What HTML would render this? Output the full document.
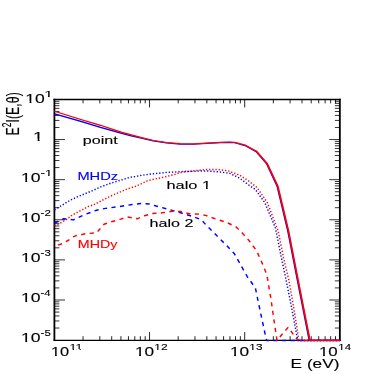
<!DOCTYPE html>
<html><head><meta charset="utf-8"><title>plot</title>
<style>html,body{margin:0;padding:0;background:#fff;}body{width:390px;height:374px;overflow:hidden;font-family:"Liberation Sans",sans-serif;}svg{display:block}text{font-family:"Liberation Sans",sans-serif;}</style></head><body>
<svg width="390" height="374" viewBox="0 0 390 374" style="will-change:transform">
<rect width="390" height="374" fill="#fff"/>
<g stroke="#000" fill="none">
<path d="M83.04 340.1L83.04 336.2 M83.04 99.45L83.04 103.35 M99.8 340.1L99.8 336.2 M99.8 99.45L99.8 103.35 M111.69 340.1L111.69 336.2 M111.69 99.45L111.69 103.35 M120.91 340.1L120.91 336.2 M120.91 99.45L120.91 103.35 M128.44 340.1L128.44 336.2 M128.44 99.45L128.44 103.35 M134.81 340.1L134.81 336.2 M134.81 99.45L134.81 103.35 M140.33 340.1L140.33 336.2 M140.33 99.45L140.33 103.35 M145.2 340.1L145.2 336.2 M145.2 99.45L145.2 103.35 M149.55 340.1L149.55 332.1 M149.55 99.45L149.55 107.45 M178.19 340.1L178.19 336.2 M178.19 99.45L178.19 103.35 M194.95 340.1L194.95 336.2 M194.95 99.45L194.95 103.35 M206.84 340.1L206.84 336.2 M206.84 99.45L206.84 103.35 M216.06 340.1L216.06 336.2 M216.06 99.45L216.06 103.35 M223.59 340.1L223.59 336.2 M223.59 99.45L223.59 103.35 M229.96 340.1L229.96 336.2 M229.96 99.45L229.96 103.35 M235.48 340.1L235.48 336.2 M235.48 99.45L235.48 103.35 M240.35 340.1L240.35 336.2 M240.35 99.45L240.35 103.35 M244.7 340.1L244.7 332.1 M244.7 99.45L244.7 107.45 M273.34 340.1L273.34 336.2 M273.34 99.45L273.34 103.35 M290.1 340.1L290.1 336.2 M290.1 99.45L290.1 103.35 M301.99 340.1L301.99 336.2 M301.99 99.45L301.99 103.35 M311.21 340.1L311.21 336.2 M311.21 99.45L311.21 103.35 M318.74 340.1L318.74 336.2 M318.74 99.45L318.74 103.35 M325.11 340.1L325.11 336.2 M325.11 99.45L325.11 103.35 M330.63 340.1L330.63 336.2 M330.63 99.45L330.63 103.35 M335.5 340.1L335.5 336.2 M335.5 99.45L335.5 103.35" stroke-width="0.85"/>
<path d="M54.4 127.48L59.4 127.48 M339.85 127.48L334.85 127.48 M54.4 120.42L59.4 120.42 M339.85 120.42L334.85 120.42 M54.4 115.41L59.4 115.41 M339.85 115.41L334.85 115.41 M54.4 111.52L59.4 111.52 M339.85 111.52L334.85 111.52 M54.4 108.35L59.4 108.35 M339.85 108.35L334.85 108.35 M54.4 105.66L59.4 105.66 M339.85 105.66L334.85 105.66 M54.4 103.34L59.4 103.34 M339.85 103.34L334.85 103.34 M54.4 101.29L59.4 101.29 M339.85 101.29L334.85 101.29 M54.4 139.56L65 139.56 M339.85 139.56L329.25 139.56 M54.4 167.59L59.4 167.59 M339.85 167.59L334.85 167.59 M54.4 160.53L59.4 160.53 M339.85 160.53L334.85 160.53 M54.4 155.52L59.4 155.52 M339.85 155.52L334.85 155.52 M54.4 151.63L59.4 151.63 M339.85 151.63L334.85 151.63 M54.4 148.46L59.4 148.46 M339.85 148.46L334.85 148.46 M54.4 145.77L59.4 145.77 M339.85 145.77L334.85 145.77 M54.4 143.45L59.4 143.45 M339.85 143.45L334.85 143.45 M54.4 141.39L59.4 141.39 M339.85 141.39L334.85 141.39 M54.4 179.67L65 179.67 M339.85 179.67L329.25 179.67 M54.4 207.7L59.4 207.7 M339.85 207.7L334.85 207.7 M54.4 200.64L59.4 200.64 M339.85 200.64L334.85 200.64 M54.4 195.63L59.4 195.63 M339.85 195.63L334.85 195.63 M54.4 191.74L59.4 191.74 M339.85 191.74L334.85 191.74 M54.4 188.56L59.4 188.56 M339.85 188.56L334.85 188.56 M54.4 185.88L59.4 185.88 M339.85 185.88L334.85 185.88 M54.4 183.55L59.4 183.55 M339.85 183.55L334.85 183.55 M54.4 181.5L59.4 181.5 M339.85 181.5L334.85 181.5 M54.4 219.78L65 219.78 M339.85 219.78L329.25 219.78 M54.4 247.81L59.4 247.81 M339.85 247.81L334.85 247.81 M54.4 240.75L59.4 240.75 M339.85 240.75L334.85 240.75 M54.4 235.74L59.4 235.74 M339.85 235.74L334.85 235.74 M54.4 231.85L59.4 231.85 M339.85 231.85L334.85 231.85 M54.4 228.67L59.4 228.67 M339.85 228.67L334.85 228.67 M54.4 225.99L59.4 225.99 M339.85 225.99L334.85 225.99 M54.4 223.66L59.4 223.66 M339.85 223.66L334.85 223.66 M54.4 221.61L59.4 221.61 M339.85 221.61L334.85 221.61 M54.4 259.88L65 259.88 M339.85 259.88L329.25 259.88 M54.4 287.92L59.4 287.92 M339.85 287.92L334.85 287.92 M54.4 280.86L59.4 280.86 M339.85 280.86L334.85 280.86 M54.4 275.84L59.4 275.84 M339.85 275.84L334.85 275.84 M54.4 271.96L59.4 271.96 M339.85 271.96L334.85 271.96 M54.4 268.78L59.4 268.78 M339.85 268.78L334.85 268.78 M54.4 266.1L59.4 266.1 M339.85 266.1L334.85 266.1 M54.4 263.77L59.4 263.77 M339.85 263.77L334.85 263.77 M54.4 261.72L59.4 261.72 M339.85 261.72L334.85 261.72 M54.4 299.99L65 299.99 M339.85 299.99L329.25 299.99 M54.4 328.03L59.4 328.03 M339.85 328.03L334.85 328.03 M54.4 320.96L59.4 320.96 M339.85 320.96L334.85 320.96 M54.4 315.95L59.4 315.95 M339.85 315.95L334.85 315.95 M54.4 312.07L59.4 312.07 M339.85 312.07L334.85 312.07 M54.4 308.89L59.4 308.89 M339.85 308.89L334.85 308.89 M54.4 306.2L59.4 306.2 M339.85 306.2L334.85 306.2 M54.4 303.88L59.4 303.88 M339.85 303.88L334.85 303.88 M54.4 301.83L59.4 301.83 M339.85 301.83L334.85 301.83" stroke-width="0.8"/>
<path d="M54.4 98.7V340.85 M339.85 98.7V340.85" stroke-width="1.8"/>
<path d="M53.5 99.45H340.75" stroke-width="1.5"/>
<path d="M53.5 340.4H340.75" stroke-width="1.25"/>
</g>
<g fill="none" stroke-linejoin="round">
<path d="M54.5 223.1 L63.6 218.7 L73.3 219.9 L83.7 215 L96.5 210.2 L105.4 208.4 L116.2 207 L120 206.5 L132.3 204.5 L140.9 203.5 L149.5 204 L156 206 L168.3 209.3 L180.6 212.8 L192.9 216.5 L201.5 219.9 L205.7 224.6 L216.4 235.3 L227.1 246 L234.4 253.8 L236.4 257.3 L239.8 263.2 L243.3 269.7 L247.4 276.8 L255.4 288 L260.7 313.5 L266.5 340.4 L339.8 340.4" stroke="#0000ff" stroke-width="1.45" stroke-dasharray="4.2 4.4"/>
<path d="M54.5 246.2 L62.6 243.6 L65.9 241.6 L69.5 239.5 L72.3 237.2 L76.9 235.3 L81.1 234.8 L85.2 233.7 L96.5 232.9 L104 224.3 L111.5 221.8 L120.8 219.1 L127.4 216.9 L137.2 218.8 L144.6 215.7 L152 213.6 L160.9 213 L172 211.3 L180.6 211.5 L189.2 213.8 L199 214.1 L205.7 215.4 L216.4 219.2 L225.6 222 L235.6 226.6 L237.4 228.2 L242.9 233.7 L248.5 239.9 L252.3 245 L256.5 250.5 L259.9 258.2 L262.7 264.4 L265.5 271.3 L267.1 276.4 L268.4 283.3 L269.4 290.2 L270.7 297.2 L273.5 316.8 L277 340.4 L288.1 327.4 L297.8 340.4 L339.8 340.4" stroke="#ff0000" stroke-width="1.45" stroke-dasharray="4.2 4.4" stroke-dashoffset="4.9"/>
<path d="M54.5 209.8 L64.4 203.8 L70 200.4 L77.7 196.7 L85.4 193.6 L93.1 190.4 L100.8 186.9 L110.7 183.2 L121.4 180 L130.2 177.2 L135 176.5 L140 175.6 L147.8 174.4 L153.4 173.8 L166.7 172.4 L180.1 171.7 L193.5 171.2 L206.8 170.9 L220.2 172 L230 173.4 L239.6 178.1 L249.3 185.4 L255.4 189.5 L264.8 202.7 L275.5 228.1 L280.8 254.9 L286.1 280 L291.5 307 L297.7 340.4 L339.8 340.4" stroke="#0000ff" stroke-width="1.45" stroke-dasharray="1.3 1.9"/>
<path d="M54.5 225.6 L60.3 223.1 L65.9 219.9 L71.4 215.7 L76.9 212.5 L82.5 209.7 L88 206.6 L93.7 204.8 L98 202.6 L104 199.4 L110 196.4 L116 193.7 L122.5 190.9 L128.5 188.5 L134 186.9 L141.4 183.7 L147.8 180.6 L154.2 179.2 L160.6 177.9 L167 176.4 L173.5 174.7 L180 172.8 L185 171.7 L193.5 170.9 L206.8 169.4 L217.5 169.5 L228.2 170.9 L239.6 175.1 L249.3 181.5 L257 187.5 L267.4 202.7 L278.1 230.8 L283.5 257.5 L288.8 280 L293.6 307 L298.9 340.4 L339.8 340.4" stroke="#ff0000" stroke-width="1.45" stroke-dasharray="1.3 1.9"/>
<g transform="scale(1.4,1)">
<path d="M38.93 113.8 L57.14 121.2 L71.79 127.4 L86.43 133.1 L93.79 135.95 L101.07 138.05 L109.57 140.85 L119.07 142.95 L128.64 144.05 L138.21 144.25 L147.71 143.45 L157.29 142.65 L164.29 142.35 L167.71 142.75 L175.14 145.55 L183.11 151.65 L190.64 164.05 L198.14 186.55 L205.75 231.35 L213.68 288.35 L221 340.4 L242.71 340.4" stroke="#0000ff" stroke-width="1.25"/>
<path d="M38.93 111.2 L57.14 119.2 L71.79 125.3 L86.43 132.1 L101.07 137.6 L109.57 140.5 L119.07 142.6 L128.64 143.7 L138.21 143.9 L147.71 143.1 L157.29 142.3 L164.29 142 L167.71 142.4 L175.14 145.2 L183.21 151.3 L190.86 163.7 L198.43 186.2 L206.07 231 L214 288 L221.36 340.4 L242.71 340.4" stroke="#ff0000" stroke-width="1.25"/>
</g>
</g>
<text transform="translate(25.32,102.75) scale(1.4229,1)" font-size="12.3" fill="#000" stroke="#000" stroke-width="0.12">10</text>
<text transform="translate(44.2,96.9) scale(1.5754,1)" font-size="9.9" fill="#000" stroke="#000" stroke-width="0.12">1</text>
<text transform="translate(33.12,140.9) scale(1.5015,1)" font-size="12.3" fill="#000" stroke="#000" stroke-width="0.12">1</text>
<text transform="translate(21.01,181.77) scale(1.4312,1)" font-size="12.3" fill="#000" stroke="#000" stroke-width="0.12">10</text>
<text transform="translate(40.51,175.97) scale(1.3341,1)" font-size="9.9" fill="#000" stroke="#000" stroke-width="0.12">-1</text>
<text transform="translate(21.01,221.88) scale(1.4312,1)" font-size="12.3" fill="#000" stroke="#000" stroke-width="0.12">10</text>
<text transform="translate(40.59,216.08) scale(1.1698,1)" font-size="9.9" fill="#000" stroke="#000" stroke-width="0.12">-2</text>
<text transform="translate(21.01,261.98) scale(1.4312,1)" font-size="12.3" fill="#000" stroke="#000" stroke-width="0.12">10</text>
<text transform="translate(40.59,256.18) scale(1.1605,1)" font-size="9.9" fill="#000" stroke="#000" stroke-width="0.12">-3</text>
<text transform="translate(21.01,302.09) scale(1.4312,1)" font-size="12.3" fill="#000" stroke="#000" stroke-width="0.12">10</text>
<text transform="translate(40.6,296.29) scale(1.1396,1)" font-size="9.9" fill="#000" stroke="#000" stroke-width="0.12">-4</text>
<text transform="translate(21.01,342.2) scale(1.4312,1)" font-size="12.3" fill="#000" stroke="#000" stroke-width="0.12">10</text>
<text transform="translate(40.59,336.4) scale(1.1577,1)" font-size="9.9" fill="#000" stroke="#000" stroke-width="0.12">-5</text>
<text transform="translate(51.02,356.4) scale(1.3314,1)" font-size="12.3" fill="#000" stroke="#000" stroke-width="0.12">10</text>
<text transform="translate(69.6,350) scale(1.2629,1)" font-size="9.9" fill="#000" stroke="#000" stroke-width="0.12">11</text>
<text transform="translate(134.95,356.4) scale(1.3979,1)" font-size="12.3" fill="#000" stroke="#000" stroke-width="0.12">10</text>
<text transform="translate(154.24,350) scale(1.2132,1)" font-size="9.9" fill="#000" stroke="#000" stroke-width="0.12">12</text>
<text transform="translate(229.94,356.4) scale(1.4063,1)" font-size="12.3" fill="#000" stroke="#000" stroke-width="0.12">10</text>
<text transform="translate(249.36,350) scale(1.1949,1)" font-size="9.9" fill="#000" stroke="#000" stroke-width="0.12">13</text>
<text transform="translate(318.98,356.4) scale(1.3730,1)" font-size="12.3" fill="#000" stroke="#000" stroke-width="0.12">10</text>
<text transform="translate(338.29,350) scale(1.1669,1)" font-size="9.9" fill="#000" stroke="#000" stroke-width="0.12">14</text>
<text transform="translate(290.59,368.4) scale(1.3690,1)" font-size="12.6" fill="#000" stroke="#000" stroke-width="0.12">E (eV)</text>
<text transform="translate(82.86,143.8) scale(1.4141,1)" font-size="11.4" fill="#000" stroke="#000" stroke-width="0.12">point</text>
<text transform="translate(77.4,180.1) scale(1.4239,1)" font-size="10.3" fill="#0000ff" stroke="#0000ff" stroke-width="0.12">MHDz</text>
<text transform="translate(166.46,188.6) scale(1.4386,1)" font-size="11.4" fill="#000" stroke="#000" stroke-width="0.12">halo 1</text>
<text transform="translate(149.48,227) scale(1.4143,1)" font-size="11.4" fill="#000" stroke="#000" stroke-width="0.12">halo 2</text>
<text transform="translate(77.73,248) scale(1.3745,1)" font-size="10.4" fill="#ff0000" stroke="#ff0000" stroke-width="0.12">MHDy</text>
<g transform="translate(18.8,135.6) scale(1.45,1) rotate(-90)"><text x="0" y="0" font-size="12.2" letter-spacing="0.11" fill="#000" stroke="#000" stroke-width="0.1">E<tspan font-size="8.4" dy="-5.6">2</tspan><tspan dy="5.6">I(E,θ)</tspan></text></g>
<g fill="#fff"><rect x="25.66" y="101" width="3.86" height="3"/><rect x="31.47" y="101" width="3.67" height="3"/><rect x="44.5" y="96" width="3.44" height="2"/><rect x="49.68" y="96" width="3.27" height="2"/><rect x="33.48" y="139" width="4.08" height="3"/><rect x="39.62" y="139" width="3.88" height="3"/><rect x="21.35" y="180" width="3.89" height="3"/><rect x="27.2" y="180" width="3.7" height="3"/><rect x="45.17" y="175" width="2.91" height="2"/><rect x="49.55" y="175" width="2.77" height="2"/><rect x="21.35" y="220" width="3.89" height="3"/><rect x="27.2" y="220" width="3.7" height="3"/><rect x="21.35" y="260" width="3.89" height="3"/><rect x="27.2" y="260" width="3.7" height="3"/><rect x="21.35" y="301" width="3.89" height="2"/><rect x="27.2" y="301" width="3.7" height="2"/><rect x="21.35" y="341" width="3.89" height="2"/><rect x="27.2" y="341" width="3.7" height="2"/><rect x="51.34" y="355" width="3.61" height="2"/><rect x="56.78" y="355" width="3.44" height="2"/><rect x="69.84" y="349" width="2.76" height="2"/><rect x="73.99" y="349" width="2.63" height="2"/><rect x="76.8" y="349" width="2.76" height="2"/><rect x="80.95" y="349" width="2.63" height="2"/><rect x="135.28" y="355" width="3.79" height="2"/><rect x="140.99" y="355" width="3.61" height="2"/><rect x="154.48" y="349" width="2.65" height="2"/><rect x="158.47" y="349" width="2.52" height="2"/><rect x="230.27" y="355" width="3.82" height="2"/><rect x="236.02" y="355" width="3.63" height="2"/><rect x="249.59" y="349" width="2.61" height="2"/><rect x="253.52" y="349" width="2.48" height="2"/><rect x="319.31" y="355" width="3.73" height="2"/><rect x="324.91" y="355" width="3.55" height="2"/><rect x="338.51" y="349" width="2.55" height="2"/><rect x="342.35" y="349" width="2.43" height="2"/><rect x="202.35" y="187" width="3.62" height="2"/><rect x="207.79" y="187" width="3.44" height="2"/></g>
</svg>
</body></html>
